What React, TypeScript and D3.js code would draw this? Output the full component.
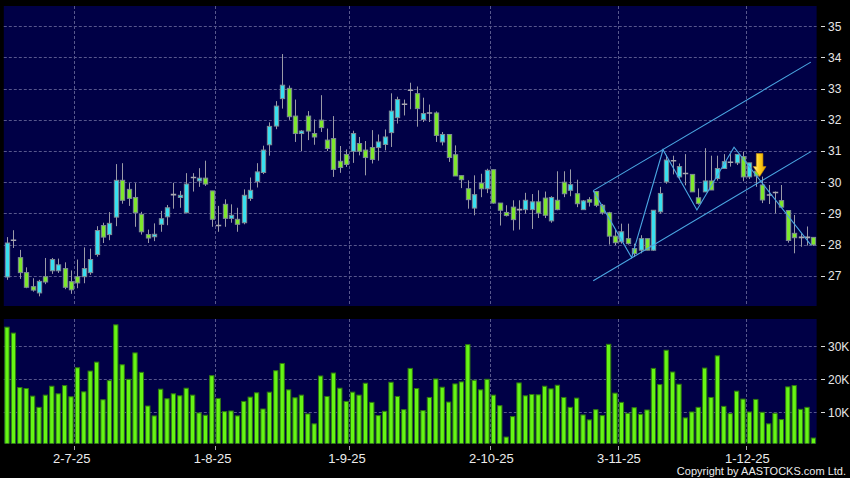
import React from 'react';
import * as d3 from 'd3';

// ---- data (index = trading day, 0 .. 126) ----
const opens = [
  26.96, 28.14, 27.58, 27.10, 26.65, 26.45, 26.97, 27.16, 27.16, 27.23,
  26.81, 26.97, 26.97, 27.10, 27.68, 28.61, 28.32, 28.88, 30.06, 29.77,
  29.51, 28.97, 28.32, 28.25, 28.65, 28.89, 29.60, 29.51, 29.02, 30.15,
  30.04, 30.13, 29.72, 28.61, 29.29, 28.84, 28.81, 28.70, 29.48, 30.02,
  30.31, 31.20, 31.80, 32.68, 33.01, 32.12, 31.56, 32.12, 31.56, 31.99,
  31.35, 31.40, 30.67, 30.89, 30.99, 31.24, 31.03, 31.11, 31.11, 31.21,
  31.59, 32.07, 32.50, 32.95, 32.84, 32.01, 32.22, 32.22, 31.29, 31.53,
  30.88, 30.21, 29.79, 29.17, 29.97, 29.79, 30.40, 29.33, 29.03, 29.20,
  29.12, 29.12, 29.12, 29.37, 29.49, 28.76, 29.42, 30.00, 29.74, 29.63,
  29.12, 29.44, 29.70, 29.26, 29.02, 28.27, 28.09, 28.19, 27.87, 27.82,
  28.19, 27.82, 29.05, 30.01, 30.69, 30.17, 30.28, 30.25, 29.50, 29.69,
  30.04, 30.12, 30.44, 30.64, 30.62, 30.82, 30.17, 30.35, 29.91, 29.59,
  29.67, 29.41, 29.09, 28.36, 28.23, 28.23, 28.23,
];
const highs = [
  28.24, 28.46, 27.83, 27.27, 26.92, 26.87, 27.57, 27.57, 27.55, 27.43,
  27.17, 27.52, 27.91, 27.87, 28.59, 28.70, 29.04, 30.58, 30.61, 29.97,
  29.97, 29.05, 28.48, 28.68, 29.08, 29.27, 29.98, 29.72, 30.29, 30.29,
  30.45, 30.69, 29.72, 29.24, 29.45, 29.29, 29.18, 29.77, 30.15, 30.61,
  31.17, 31.92, 32.60, 34.11, 33.10, 32.65, 31.67, 32.28, 32.01, 32.79,
  31.72, 32.12, 31.16, 31.05, 31.65, 31.45, 31.32, 31.67, 31.53, 31.69,
  32.85, 32.74, 32.65, 33.19, 33.07, 32.71, 32.49, 32.27, 31.61, 31.53,
  31.18, 30.21, 30.06, 30.22, 30.27, 30.43, 30.40, 29.33, 29.26, 29.42,
  29.42, 29.66, 29.62, 29.74, 29.70, 29.55, 30.35, 30.35, 30.41, 30.08,
  29.43, 29.52, 29.72, 29.30, 29.05, 28.48, 28.67, 28.67, 28.03, 28.30,
  28.19, 29.10, 29.85, 30.87, 30.85, 30.60, 30.90, 30.25, 29.80, 31.09,
  30.85, 30.85, 30.90, 30.90, 30.89, 30.98, 30.62, 30.45, 30.18, 29.91,
  29.70, 29.91, 29.09, 28.95, 28.36, 28.58, 28.23,
];
const lows = [
  26.87, 27.89, 26.90, 26.60, 26.49, 26.34, 26.73, 27.06, 27.09, 26.57,
  26.42, 26.60, 26.76, 27.03, 27.61, 28.05, 28.14, 28.59, 29.31, 29.24,
  28.57, 28.32, 28.05, 28.11, 28.41, 28.62, 29.15, 29.18, 29.02, 29.70,
  29.85, 29.88, 28.57, 28.41, 28.57, 28.70, 28.41, 28.65, 29.40, 29.83,
  30.26, 30.85, 31.70, 32.36, 32.00, 31.29, 31.00, 31.35, 31.20, 31.61,
  31.00, 30.17, 30.30, 30.49, 30.62, 30.86, 30.22, 30.60, 30.69, 31.02,
  31.13, 31.88, 32.14, 32.34, 31.78, 31.93, 31.93, 31.29, 31.18, 30.65,
  30.20, 29.81, 29.15, 28.94, 29.52, 29.65, 29.31, 28.61, 28.90, 28.45,
  28.48, 28.99, 28.50, 28.85, 28.85, 28.70, 29.10, 29.52, 29.55, 29.20,
  29.12, 29.22, 29.20, 28.96, 28.00, 27.98, 28.03, 28.00, 27.60, 27.72,
  27.82, 27.80, 28.99, 29.95, 30.25, 30.10, 29.90, 29.70, 29.28, 29.69,
  29.75, 30.05, 30.44, 30.50, 30.55, 30.03, 30.10, 29.85, 29.33, 29.30,
  29.00, 29.20, 28.06, 27.72, 27.93, 27.97, 27.96,
];
const closes = [
  28.05, 28.14, 27.10, 26.63, 26.54, 26.82, 26.80, 27.52, 27.35, 26.63,
  26.55, 26.77, 27.23, 27.52, 28.45, 28.24, 28.68, 30.06, 29.42, 29.48,
  29.02, 28.41, 28.21, 28.33, 28.83, 29.18, 29.60, 29.58, 29.94, 30.15,
  30.13, 29.94, 28.81, 28.61, 28.84, 28.94, 28.65, 29.58, 29.74, 30.33,
  31.03, 31.79, 32.44, 33.11, 32.10, 31.56, 31.64, 31.64, 31.45, 31.75,
  31.08, 30.41, 30.47, 30.57, 31.56, 30.99, 30.79, 30.73, 31.29, 31.45,
  32.28, 32.65, 32.50, 32.95, 32.36, 32.20, 32.22, 31.50, 31.53, 30.79,
  30.20, 30.08, 29.44, 29.60, 29.79, 30.38, 29.33, 29.10, 28.93, 28.80,
  29.12, 29.42, 29.37, 29.01, 28.94, 29.51, 29.12, 29.63, 29.92, 29.31,
  29.40, 29.36, 29.26, 29.02, 28.27, 28.06, 28.41, 28.03, 27.71, 28.19,
  27.82, 29.10, 29.64, 30.71, 30.69, 30.50, 30.28, 29.69, 29.32, 30.04,
  29.75, 30.44, 30.66, 30.64, 30.89, 30.17, 30.62, 30.20, 29.43, 29.59,
  29.67, 29.20, 28.13, 28.22, 28.23, 28.23, 27.99,
];
const volumes = [
  35800, 34000, 17500, 17200, 14900, 11500, 15200, 17900, 15600, 18100,
  14700, 23500, 16200, 22500, 25200, 13800, 19600, 36500, 24400, 20000,
  28000, 22100, 11900, 8900, 17000, 14100, 15600, 15000, 17300, 15200,
  9800, 9100, 21100, 14200, 10200, 10400, 8900, 13300, 14600, 15900,
  11000, 16100, 22600, 24800, 16800, 14400, 15200, 9500, 6500, 21000,
  14800, 21900, 17300, 13300, 16100, 15200, 18800, 13000, 9000, 10300,
  19100, 14800, 10800, 23300, 17200, 10500, 14500, 20100, 17600, 13100,
  18600, 19200, 30500, 19700, 16800, 20000, 15200, 12000, 2500, 8700,
  18900, 15000, 15400, 15300, 17900, 17100, 18200, 14500, 11500, 14300,
  9200, 7700, 10800, 9000, 30600, 15800, 13000, 9700, 11400, 9400,
  10700, 23300, 18400, 28800, 22200, 18500, 8300, 10100, 11500, 23400,
  14500, 27100, 11800, 9600, 16400, 14000, 10100, 13900, 10000, 6500,
  9700, 7800, 17700, 18100, 10900, 11500, 2200,
];

const dateTickIndex = [10, 32, 53, 75, 95, 115];
const dateTickLabels = ['2-7-25', '1-8-25', '1-9-25', '2-10-25', '3-11-25', '1-12-25'];
const priceTicks = [27, 28, 29, 30, 31, 32, 33, 34, 35];
const volumeTicks = [10000, 20000, 30000];
const volumeTickLabels = ['10K', '20K', '30K'];

// drawn annotations, in [index, price]
const channelUpper = [[91.6, 29.73], [125.6, 33.85]];
const channelLower = [[91.6, 26.84], [125.6, 30.98]];
const zigzag = [
  [91.6, 29.73], [97.6, 27.58], [102.5, 31.04], [107.8, 29.11], [113.6, 31.12], [125.6, 27.99],
];
const arrowAt = [117.6, 30.18];

const W = 850;
const H = 478;
const FONT = '"Liberation Sans", Arial, sans-serif';

export default function App() {
  const n = closes.length;
  const x = d3.scaleLinear().domain([0, n - 1]).range([7, 813.4]);
  const y = d3.scaleLinear().domain([26.03, 35.65]).range([306, 6]);
  const yv = d3.scaleLinear().domain([0, 38270]).range([445.3, 319]);

  const mainTop = 6, mainBottom = 306, left = 3.8, right = 816.6;
  const volTop = 319, volBottom = 443.5;
  const gridCol = '#57578c';
  const line = d3.line<number[]>().x((d) => x(d[0])).y((d) => y(d[1]));

  const [ax, ay] = [x(arrowAt[0]), y(arrowAt[1])];
  const arrowPath = `M${ax - 3.3},${ay - 23} L${ax + 3.3},${ay - 23} L${ax + 3.3},${ay - 10} L${ax + 6.4},${ay - 10} L${ax},${ay} L${ax - 6.4},${ay - 10} L${ax - 3.3},${ay - 10} Z`;

  return (
    <svg width={W} height={H} style={{ position: 'absolute', left: 0, top: 0 }} fontFamily={FONT}>
      <defs>
        <linearGradient id="arrowG" x1="0" x2="1" y1="0" y2="0">
          <stop offset="0" stopColor="#fff2a8" />
          <stop offset="0.45" stopColor="#ffd21c" />
          <stop offset="1" stopColor="#e8a200" />
        </linearGradient>
        <clipPath id="mainClip"><rect x={left} y={mainTop} width={right - left} height={mainBottom - mainTop} /></clipPath>
        <clipPath id="volClip"><rect x={left} y={volTop} width={right - left} height={volBottom - volTop} /></clipPath>
      </defs>
      <rect x={0} y={0} width={W} height={H} fill="#000" />
      <rect x={left} y={mainTop} width={right - left} height={mainBottom - mainTop} fill="#000046" />
      <rect x={left} y={volTop} width={right - left} height={volBottom - volTop} fill="#000046" />

      {/* grids */}
      {priceTicks.map((p) => (
        <line key={'pg' + p} x1={left} x2={right} y1={Math.round(y(p)) + 0.5} y2={Math.round(y(p)) + 0.5} stroke={gridCol} strokeDasharray="3,2" />
      ))}
      {volumeTicks.map((v) => (
        <line key={'vg' + v} x1={left} x2={right} y1={Math.round(yv(v)) + 0.5} y2={Math.round(yv(v)) + 0.5} stroke={gridCol} strokeDasharray="3,2" />
      ))}
      {dateTickIndex.map((i) => {
        const gx = Math.round(x(i) + 3.2) + 0.5;
        return (
          <g key={'dg' + i}>
            <line x1={gx} x2={gx} y1={mainTop} y2={mainBottom} stroke={gridCol} strokeDasharray="3,2" />
            <line x1={gx} x2={gx} y1={volTop} y2={volBottom} stroke={gridCol} strokeDasharray="3,2" />
            <line x1={gx} x2={gx} y1={446} y2={450} stroke="#aaa" />
          </g>
        );
      })}

      {/* volume bars */}
      <g clipPath="url(#volClip)">
        {volumes.map((v, i) => (
          <rect key={'v' + i} x={x(i) - 2.15} y={yv(v)} width={4.3} height={volBottom - yv(v) + 2} fill="#66f515" stroke="#2f7a10" strokeWidth={1} />
        ))}
      </g>

      {/* candles */}
      <g clipPath="url(#mainClip)">
        {closes.map((c, i) => {
          const o = opens[i];
          const cx = Math.round(x(i));
          const wickX = cx + 0.5;
          const doji = Math.abs(c - o) < 0.02;
          const up = c > o;
          const top = y(Math.max(o, c));
          const bot = y(Math.min(o, c));
          return (
            <g key={'c' + i}>
              <line x1={wickX} x2={wickX} y1={y(highs[i])} y2={y(lows[i])} stroke="#9a9aa6" strokeWidth={1} />
              {doji ? (
                <line x1={cx - 2.2} x2={cx + 3.2} y1={y(o)} y2={y(o)} stroke="#a8a8b0" strokeWidth={1.6} />
              ) : (
                <rect x={cx - 1.65} y={top} width={4.3} height={Math.max(1, bot - top)} fill={up ? '#38e0f0' : '#7ee82c'} stroke="#7e8c96" strokeWidth={1} />
              )}
            </g>
          );
        })}
        <path d={line(channelUpper as any) || ''} fill="none" stroke="#4aa6e2" strokeWidth={1.1} />
        <path d={line(channelLower as any) || ''} fill="none" stroke="#4aa6e2" strokeWidth={1.1} />
        <path d={line(zigzag as any) || ''} fill="none" stroke="#4aa6e2" strokeWidth={1.1} />
        <path d={arrowPath} fill="url(#arrowG)" stroke="#c88a00" strokeWidth={0.6} />
      </g>

      {/* right axes */}
      {priceTicks.map((p) => (
        <g key={'pl' + p}>
          <line x1={821} x2={825} y1={Math.round(y(p)) + 0.5} y2={Math.round(y(p)) + 0.5} stroke="#ddd" />
          <text x={828} y={y(p)} dy="0.36em" fontSize={12} fill="#e6e6e6">{p}</text>
        </g>
      ))}
      {volumeTicks.map((v, k) => (
        <g key={'vl' + v}>
          <line x1={821} x2={825} y1={Math.round(yv(v)) + 0.5} y2={Math.round(yv(v)) + 0.5} stroke="#ddd" />
          <text x={828} y={yv(v)} dy="0.36em" fontSize={12} fill="#e6e6e6">{volumeTickLabels[k]}</text>
        </g>
      ))}

      {/* date labels */}
      {dateTickIndex.map((i, k) => (
        <text key={'dl' + i} x={x(i) - 18} y={462.5} fontSize={13} fill="#ececec">{dateTickLabels[k]}</text>
      ))}

      <text x={846} y={475} fontSize={11} fill="#ececec" textAnchor="end">Copyright by AASTOCKS.com Ltd.</text>
    </svg>
  );
}
